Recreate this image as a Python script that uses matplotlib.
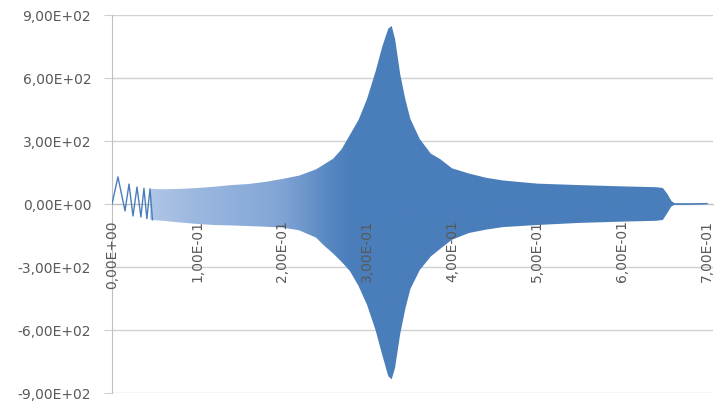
import matplotlib
matplotlib.use("Agg")
import matplotlib.pyplot as plt
from matplotlib.colors import LinearSegmentedColormap
from matplotlib.ticker import FuncFormatter
import numpy as np

# first few oscillations, read peak by peak
peak_x = [0.000, 0.007, 0.0153, 0.020, 0.0247, 0.0294, 0.034, 0.0376, 0.041, 0.0447, 0.0476]
peak_y = [0, 129, -33, 95, -57, 81, -62, 75, -70, 72, -75]

# envelope of the dense part of the signal
env_x = [0.045, 0.06, 0.08, 0.10, 0.12, 0.14, 0.16, 0.18, 0.20, 0.22,
         0.24, 0.25, 0.26, 0.27, 0.28, 0.29, 0.30, 0.31, 0.318, 0.325,
         0.329, 0.333, 0.339, 0.345, 0.351, 0.362, 0.375, 0.386, 0.40, 0.42,
         0.44, 0.46, 0.50, 0.55, 0.60, 0.64, 0.648, 0.653, 0.658, 0.662,
         0.68, 0.70]
env_hi = [72, 70, 72, 76, 82, 90, 95, 105, 119, 135,
          165, 190, 215, 260, 330, 400, 500, 630, 750, 835,
          848, 786, 619, 500, 405, 310, 240, 214, 170, 145,
          125, 112, 97, 90, 84, 80, 76, 50, 15, 3,
          2, 4]
env_lo = [-75, -80, -88, -95, -100, -102, -105, -108, -112, -125,
          -160, -200, -235, -275, -320, -390, -480, -600, -720, -820,
          -835, -780, -620, -500, -405, -315, -250, -214, -170, -138,
          -122, -110, -100, -90, -84, -80, -76, -45, -12, -3,
          -2, 0]

y_ticks = [-900, -600, -300, 0, 300, 600, 900]
x_ticks = [0.0, 0.1, 0.2, 0.3, 0.4, 0.5, 0.6, 0.7]

blue = "#4a7ebb"
grid = "#d0d0d0"
txt = "#595959"

fig = plt.figure(figsize=(7.14, 4.02), dpi=100)
ax = fig.add_axes([112 / 714, 8 / 402, (713 - 112) / 714, 378 / 402])
ax.set_xlim(0, 0.707)
ax.set_ylim(-900, 900)

# light-to-solid shading: the early oscillations are striped with white
cmap = LinearSegmentedColormap.from_list("sig", ["#b0c7e7", "#86a8d7", blue])
xg = np.linspace(0, 0.707, 600)
shade = np.interp(xg, [0.04, 0.10, 0.20, 0.255, 0.28], [0.0, 0.25, 0.55, 0.88, 1.0])
poly = ax.fill_between(env_x, env_lo, env_hi, facecolor="none", linewidth=0)
im = ax.imshow(shade[np.newaxis, :], extent=[0, 0.707, -900, 900], aspect="auto",
               cmap=cmap, vmin=0, vmax=1, zorder=3)
im.set_clip_path(poly.get_paths()[0], ax.transData)

ax.plot(peak_x, peak_y, color=blue, lw=1.0, zorder=4)
n = 4
mid = [(h + l) / 2 for h, l in zip(env_hi[-n:], env_lo[-n:])]
ax.plot(env_x[-n:], mid, color=blue, lw=1.0, zorder=4)

fmt = FuncFormatter(lambda v, p: f"{v:.2E}".replace(".", ","))
ax.set_yticks(y_ticks)
ax.set_xticks(x_ticks)
ax.yaxis.set_major_formatter(fmt)
ax.xaxis.set_major_formatter(fmt)
ax.yaxis.grid(True, color=grid, lw=1)
ax.set_axisbelow(True)

for s in ["top", "right"]:
    ax.spines[s].set_visible(False)
ax.spines["bottom"].set_position(("data", 0))
ax.spines["bottom"].set_color("#bfbfbf")
ax.spines["left"].set_color("#bfbfbf")

ax.tick_params(axis="y", length=6, color=grid, pad=9, labelsize=10, labelcolor=txt)
ax.tick_params(axis="x", length=0, pad=11, labelsize=10,
               labelcolor=txt, labelrotation=90)
# x labels sit on top of the signal, as in the original
ax.xaxis.set_zorder(5)

fig.savefig("out.png", dpi=100)
